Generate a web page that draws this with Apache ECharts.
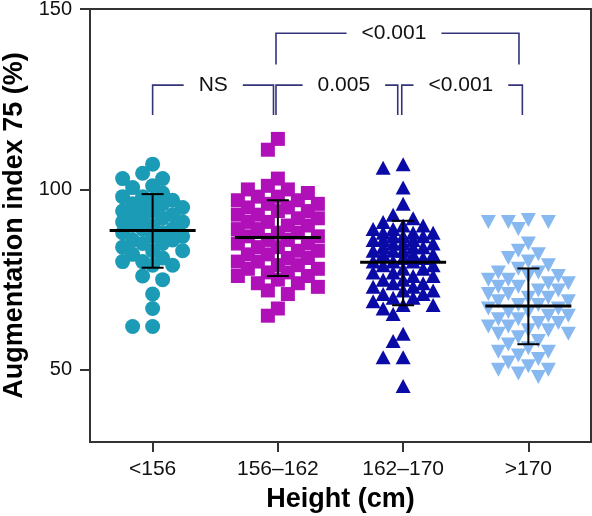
<!DOCTYPE html>
<html>
<head>
<meta charset="utf-8">
<script src="https://cdn.jsdelivr.net/npm/echarts@6/dist/echarts.min.js"></script>
<style>html,body{margin:0;padding:0;background:#fff}#c{width:592px;height:516px}</style>
</head>
<body>
<div id="c"></div>
<script>
// ---- data ----
const categories = ['<156', '156\u2013162', '162\u2013170', '>170'];
const yTicks = [50, 100, 150];

const group1 = [107, 104.5, 103, 103, 101, 100.5,
  99, 98, 98, 97, 97, 96, 96, 95, 95, 94, 94, 93, 93, 92, 92, 91, 91, 90, 90, 89, 89, 88, 88, 87, 87,
  86, 86, 85, 85, 84, 83, 83, 82, 81, 80, 80, 79, 79,
  76, 75, 71, 67, 62, 62];
const group2 = [114, 111, 103, 101, 100, 100,
  99, 98, 98, 97, 97, 96, 96, 95, 95, 94, 94, 93, 93, 92, 92, 91, 91, 90, 90, 89, 89, 88, 88, 87, 87,
  86, 86, 85, 85, 84, 84, 83, 83, 82, 82, 81, 81, 80, 80, 79, 79, 78, 78, 77, 77, 76, 76, 75, 74, 74, 73,
  72, 71, 67, 65];
const group3 = [107, 106, 100.5, 96, 93,
  92, 91, 90, 90, 89, 89, 88, 88, 88, 87, 87, 87, 86, 86, 86, 85, 85, 85, 84, 84, 84, 83, 83, 83,
  82, 82, 82, 81, 81, 80, 80, 80, 79, 79, 78, 78, 77, 77, 76, 76, 75, 75, 74, 74, 73, 73, 72, 72,
  71, 71, 70, 70, 69, 68, 68, 67,
  65.5, 60, 58, 53.5, 53.5, 45.5];
const group4 = [91.5, 91, 91, 91, 89, 85, 83, 82, 81, 80, 79,
  78, 77, 77, 76, 76, 75, 75, 74, 74, 73, 73, 72, 72, 71, 71, 70, 70, 69, 69, 68, 68, 67, 67,
  66, 66, 65, 65, 64, 64, 63, 63, 62, 62, 61, 61, 60, 60,
  59, 58, 57, 56, 55, 55, 54, 53, 52, 51, 50, 50, 49, 48];

const means = [88.6, 86.7, 79.8, 67.7];
const errLow = [78.3, 76.0, 67.9, 57.1];
const errHigh = [98.7, 97.0, 91.3, 78.1];

const bracketLeft = [1.0, 1.985, 2.989, 1.985];
const bracketRight = [1.965, 2.957, 3.952, 3.925];
const bracketTop = [128.9, 128.9, 128.9, 143.3];
const bracketBottom = [120.6, 120.6, 120.6, 134.6];
const bracketLabels = ['NS', '0.005', '<0.001', '<0.001'];
const bracketLabelX = [1.484, 2.527, 3.461, 2.927];

// ---- layout (deterministic column-scatter spreading, in pixel space) ----
const W = 592, H = 516, GL = 90, GR = 1, GT = 9, GB = 74;
const X_MIN = 0.5, X_MAX = 4.5, Y_MIN = 30, Y_MAX = 150;
const pxPerX = (W - GL - GR) / (X_MAX - X_MIN);
const pxPerY = (H - GT - GB) / (Y_MAX - Y_MIN);

function swarm(vals, center, maxOff, dist) {
  const placed = [];
  const cands = [0];
  for (let k = 10; k <= maxOff; k += 10) { cands.push(-k, k); }
  const sorted = vals.slice().sort((a, b) => b - a);
  sorted.forEach(v => {
    const py = v * pxPerY;
    let best = null, bestScore = -1;
    for (const c of cands) {
      let md = Infinity;
      for (const p of placed) {
        const dd = Math.hypot(p[0] - c, p[1] - py);
        if (dd < md) md = dd;
      }
      if (md >= dist) { best = c; bestScore = Infinity; break; }
      if (md > bestScore) { bestScore = md; best = c; }
    }
    placed.push([best, py, v]);
  });
  return placed.map(p => [center + p[0] / pxPerX, p[2]]);
}

const FONT = '"Liberation Sans", Arial, sans-serif';
const groups = [group1, group2, group3, group4];
const colors = ['#1b9bb5', '#b010b8', '#0a0aa6', '#88b8f0'];
const symbols = ['circle', 'rect', 'triangle', 'triangle'];
const sizes = [15, 14, [15, 14], [15, 14]];
const rotates = [0, 0, 0, 180];
const maxOffs = [30, 40, 30, 40];
const dists = [12, 12, 11, 12];

const series = groups.map((g, i) => ({
  type: 'scatter',
  data: swarm(g, i + 1, maxOffs[i], dists[i]),
  symbol: symbols[i],
  symbolSize: sizes[i],
  symbolRotate: rotates[i],
  itemStyle: { color: colors[i], opacity: 1 },
  z: 2,
  silent: true
}));

series.push({
  type: 'custom',
  z: 5,
  silent: true,
  data: means.map((m, i) => [i + 1, m, errLow[i], errHigh[i]]),
  renderItem: function (params, api) {
    const x = api.value(0);
    const pm = api.coord([x, api.value(1)]);
    const pl = api.coord([x, api.value(2)]);
    const ph = api.coord([x, api.value(3)]);
    const s = { stroke: '#000', lineWidth: 2 };
    return {
      type: 'group',
      children: [
        { type: 'line', shape: { x1: pm[0], y1: ph[1], x2: pm[0], y2: pl[1] }, style: s },
        { type: 'line', shape: { x1: pm[0] - 11, y1: ph[1], x2: pm[0] + 11, y2: ph[1] }, style: s },
        { type: 'line', shape: { x1: pm[0] - 11, y1: pl[1], x2: pm[0] + 11, y2: pl[1] }, style: s },
        { type: 'line', shape: { x1: pm[0] - 43, y1: pm[1], x2: pm[0] + 43, y2: pm[1] }, style: { stroke: '#000', lineWidth: 3 } }
      ]
    };
  }
});

series.push({
  type: 'custom',
  z: 6,
  silent: true,
  data: bracketLabels.map((t, i) => [bracketLeft[i], bracketRight[i], bracketTop[i], bracketBottom[i], bracketLabelX[i]]),
  renderItem: function (params, api) {
    const i = params.dataIndex;
    const a = api.coord([api.value(0), api.value(3)]);
    const b = api.coord([api.value(0), api.value(2)]);
    const c = api.coord([api.value(1), api.value(2)]);
    const d = api.coord([api.value(1), api.value(3)]);
    const t = api.coord([api.value(4), api.value(2)]);
    return {
      type: 'group',
      children: [
        { type: 'polyline', shape: { points: [a, b, c, d] }, style: { stroke: '#34347a', lineWidth: 1.6, fill: null } },
        { type: 'text', z2: 10, style: { text: bracketLabels[i], x: t[0], y: t[1], align: 'center', verticalAlign: 'middle',
          fill: '#111', font: '21px ' + FONT, backgroundColor: '#fff', padding: [2, 15] } }
      ]
    };
  }
});

const chart = echarts.init(document.getElementById('c'), null, { renderer: 'canvas' });
chart.setOption({
  animation: false,
  backgroundColor: '#fff',
  grid: { left: GL, right: GR, top: GT, bottom: GB, show: true, borderColor: '#333', borderWidth: 2,
    backgroundColor: 'transparent', containLabel: false, outerBoundsMode: 'none' },
  xAxis: {
    type: 'value', min: X_MIN, max: X_MAX,
    name: 'Height (cm)', nameLocation: 'middle', nameGap: 44,
    nameTextStyle: { fontFamily: FONT, fontSize: 27, fontWeight: 'bold', color: '#000' },
    axisLine: { show: false },
    splitLine: { show: false },
    axisTick: { show: true, customValues: [1, 2, 3, 4], length: 10, lineStyle: { color: '#333', width: 2 } },
    axisLabel: { customValues: [1, 2, 3, 4], margin: 17, fontFamily: FONT, fontSize: 21, color: '#111',
      formatter: v => categories[Math.round(v) - 1] || '' }
  },
  yAxis: {
    type: 'value', min: Y_MIN, max: Y_MAX,
    name: 'Augmentation index 75 (%)', nameLocation: 'middle', nameGap: 58,
    nameTextStyle: { fontFamily: FONT, fontSize: 27, fontWeight: 'bold', color: '#000' },
    axisLine: { show: false },
    splitLine: { show: false },
    axisTick: { show: true, customValues: yTicks, length: 10, lineStyle: { color: '#333', width: 2 } },
    axisLabel: { customValues: yTicks, margin: 18, fontFamily: FONT, fontSize: 20, color: '#111' }
  },
  series: series
});
</script>
</body>
</html>
